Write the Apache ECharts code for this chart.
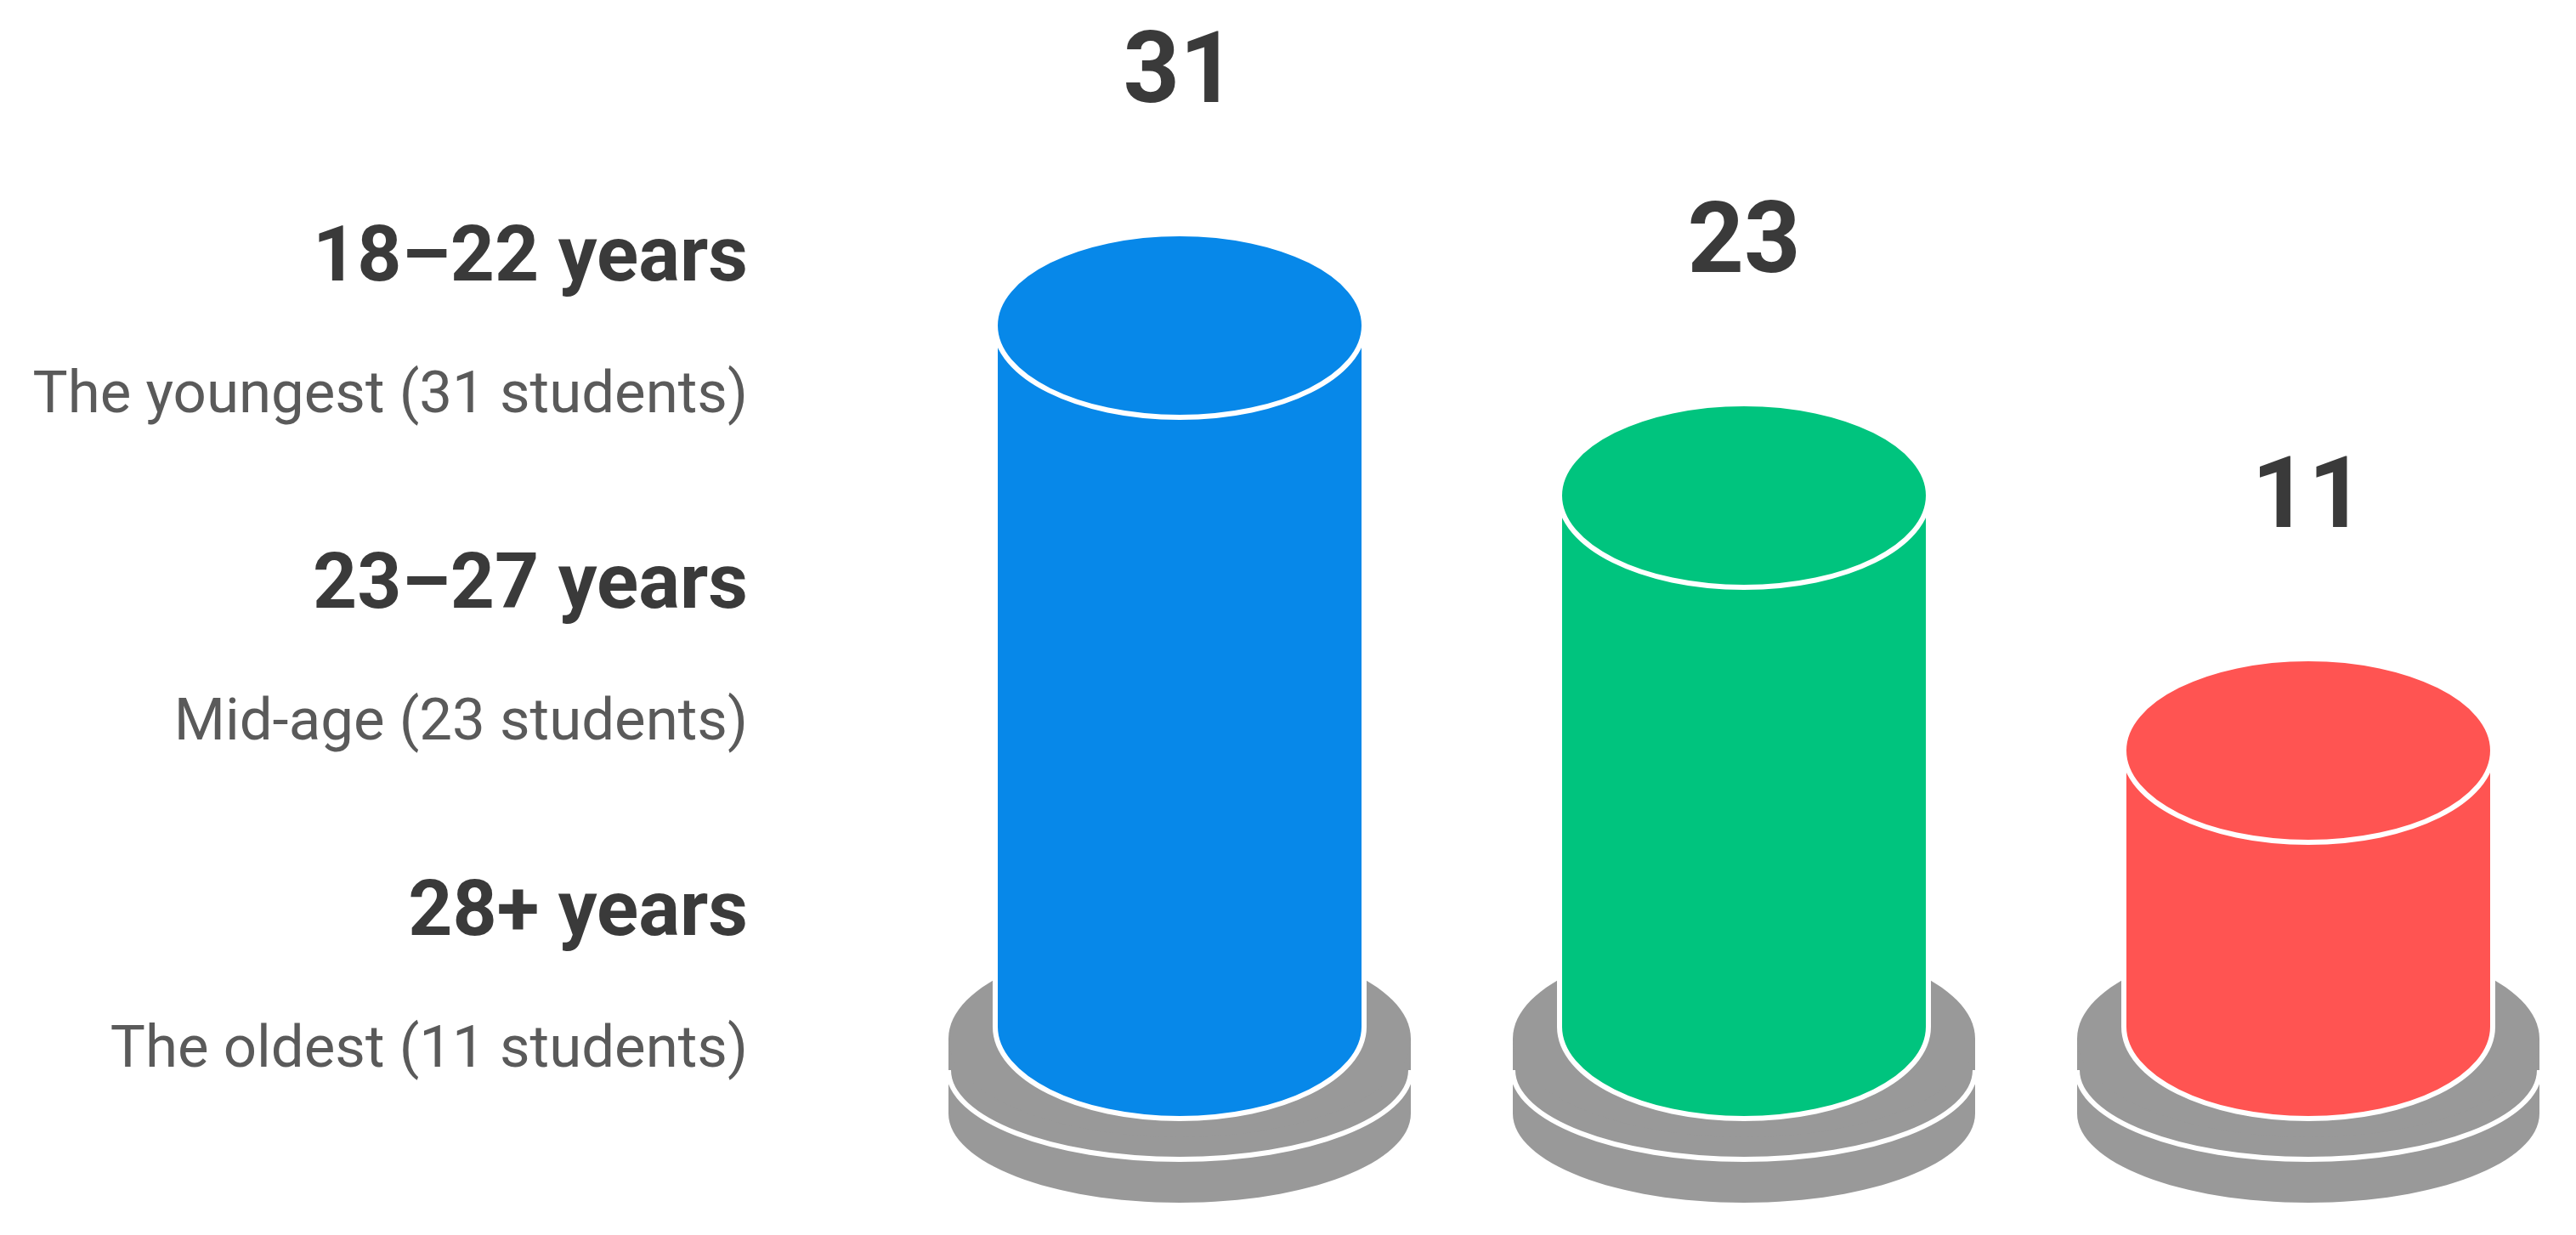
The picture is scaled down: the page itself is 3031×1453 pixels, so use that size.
<!DOCTYPE html>
<html>
<head>
<meta charset="utf-8">
<style>
  html, body { margin: 0; padding: 0; background: #fff; }
  #main { width: 3031px; height: 1453px; }
</style>
<script src="https://cdn.jsdelivr.net/npm/echarts@6/dist/echarts.min.js"></script>
</head>
<body>
<div id="main"></div>
<script>
var groups = ['18–22 years', '23–27 years', '28+ years'];
var notes = ['The youngest (31 students)', 'Mid-age (23 students)', 'The oldest (11 students)'];
var students = [31, 23, 11];
var colors = ['#0788e9', '#00c47e', '#ff5452'];

// the cylinders stand on a pedestal a bit below zero
var baseValue = -2;

var BODY_RX = 217, BODY_RY = 108;
var BASE_RX = 272, BASE_RY = 105, BASE_STEP = 51;
var GRAY = '#999999';
var EDGE = 6;

var myChart = echarts.init(document.getElementById('main'));

function renderCylinder(params, api) {
    var i = api.value(0);
    var top = api.coord([i, api.value(1)]);
    var bot = api.coord([i, baseValue]);
    var cx = top[0], ty = top[1], by = bot[1];
    var color = colors[params.dataIndex];
    var edge = {stroke: '#fff', lineWidth: EDGE};
    return {
        type: 'group',
        children: [
            // pedestal: two stacked grey discs
            {type: 'ellipse', shape: {cx: cx, cy: by + 2 * BASE_STEP, rx: BASE_RX, ry: BASE_RY}, style: {fill: GRAY}},
            {type: 'rect', shape: {x: cx - BASE_RX, y: by + BASE_STEP, width: 2 * BASE_RX, height: BASE_STEP}, style: {fill: GRAY}},
            {type: 'ellipse', shape: {cx: cx, cy: by + BASE_STEP, rx: BASE_RX, ry: BASE_RY}, style: {fill: GRAY, stroke: '#fff', lineWidth: EDGE}},
            {type: 'rect', shape: {x: cx - BASE_RX, y: by + 14, width: 2 * BASE_RX, height: BASE_STEP - 14}, style: {fill: GRAY}},
            {type: 'ellipse', shape: {cx: cx, cy: by + 14, rx: BASE_RX, ry: 116}, style: {fill: GRAY}},
            // cylinder body
            {type: 'ellipse', shape: {cx: cx, cy: by, rx: BODY_RX, ry: BODY_RY}, style: {fill: color, stroke: '#fff', lineWidth: EDGE}},
            {type: 'rect', shape: {x: cx - BODY_RX, y: ty, width: 2 * BODY_RX, height: by - ty}, style: {fill: color}},
            {type: 'line', shape: {x1: cx - BODY_RX, y1: ty, x2: cx - BODY_RX, y2: by}, style: edge},
            {type: 'line', shape: {x1: cx + BODY_RX, y1: ty, x2: cx + BODY_RX, y2: by}, style: edge},
            {type: 'ellipse', shape: {cx: cx, cy: ty, rx: BODY_RX, ry: BODY_RY}, style: {fill: color, stroke: '#fff', lineWidth: EDGE}},
            // value on top
            {
                type: 'text', x: cx, y: ty - 292,
                style: {
                    text: String(api.value(1)), font: 'bold 116px Roboto', fill: '#3a3a3a',
                    align: 'center', verticalAlign: 'middle', textAlign: 'center', textVerticalAlign: 'middle'
                }
            }
        ]
    };
}

var labels = [];
for (var i = 0; i < groups.length; i++) {
    labels.push({
        type: 'text', x: 880, y: 307 + i * 385,
        style: {
            text: groups[i], font: 'bold 91px Roboto', fill: '#3a3a3a',
            align: 'right', verticalAlign: 'middle', textAlign: 'right', textVerticalAlign: 'middle'
        }
    });
    labels.push({
        type: 'text', x: 880, y: 468 + i * 385,
        style: {
            text: notes[i], font: '69px Roboto', fill: '#5a5a5a',
            align: 'right', verticalAlign: 'middle', textAlign: 'right', textVerticalAlign: 'middle'
        }
    });
}

var option = {
    backgroundColor: '#fff',
    animation: false,
    grid: {left: 1388, right: 315, top: 158, bottom: 245},
    xAxis: {type: 'category', data: groups, boundaryGap: false, show: false},
    yAxis: {type: 'value', min: -2, max: 40, show: false},
    graphic: {elements: labels},
    series: [{
        type: 'custom',
        renderItem: renderCylinder,
        data: students.map(function (v, i) { return [i, v]; })
    }]
};
myChart.setOption(option);
</script>
</body>
</html>
